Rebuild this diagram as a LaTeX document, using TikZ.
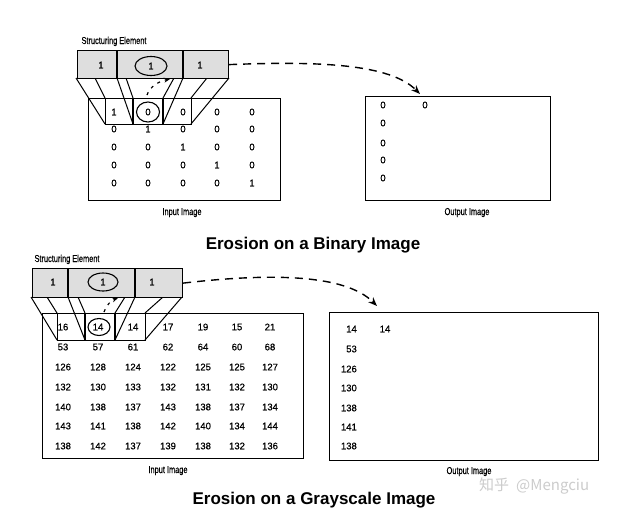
\documentclass[tikz,border=0pt]{standalone}
\usepackage{graphicx}
\usepackage{fontspec}
\setmainfont{Liberation Sans}
\newfontfamily\heavyfont[FakeBold=0.7]{Liberation Sans}
\newfontfamily\cjkfont{Noto Sans CJK SC}
\usetikzlibrary{arrows.meta,shapes.geometric}
\newcommand{\condtxt}[1]{\scalebox{0.74}[1]{#1}}
\begin{document}
\begin{tikzpicture}[x=1pt,y=-1pt,
  sebox/.style={fill=black!13,draw=black,line width=1.2pt,inner sep=0pt,anchor=north west},
  imgbox/.style={draw=black,line width=1.2pt,inner sep=0pt,anchor=north west},
  cellline/.style={draw=black,line width=1.1pt},
  proj/.style={draw=black,line width=1.0pt},
  num/.style={font=\heavyfont\fontsize{9.5}{10}\selectfont,inner sep=0pt},
  lab/.style={font=\heavyfont\fontsize{10}{11}\selectfont,inner sep=0pt,anchor=base},
  title/.style={font=\fontsize{17}{19}\selectfont\bfseries,inner sep=0pt,anchor=base},
  ring/.style={draw=black,line width=1.1pt},
  bigarrow/.style={draw=black,line width=1.4pt,dash pattern=on 8pt off 6pt,-{Stealth[length=9pt,width=7pt]}},
  smallarrow/.style={draw=black,line width=1.2pt,dash pattern=on 3pt off 5pt,-{Stealth[length=6pt,width=5pt]}}
]
\useasboundingbox (0,0) rectangle (620,523);
\fill[white] (0,0) rectangle (620,523);

% ================= Binary =================
\node[lab] (seLabB) at (114,44) {\condtxt{Structuring Element}};
% input image
\node[imgbox,minimum width=192pt,minimum height=102pt] (inB) at (88,98) {};
% window in input
\node[imgbox,minimum width=86pt,minimum height=26pt] (winB) at (105,98) {};
\draw[cellline] (133,98) -- (133,124);
\draw[cellline] (163,98) -- (163,124);
% projection lines
\draw[proj] (76,78) -- (105,124);
\draw[proj] (95,78) -- (105,98);
\draw[proj] (117,78) -- (133,124);
\draw[proj] (126,78) -- (133,98);
\draw[proj] (183,78) -- (163,124);
\draw[proj] (174,78) -- (163,98);
\draw[proj] (229,78) -- (191,124);
\draw[proj] (207,78) -- (191,98);
% structuring element
\node[sebox,minimum width=151pt,minimum height=28pt] (seB) at (77,50) {};
\draw[cellline] (117,50) -- (117,78);
\draw[cellline] (183,50) -- (183,78);
\node[num] (seB1) at (101,65) {1};
\node[num] (seB2) at (151,66) {1};
\node[num] (seB3) at (200,65) {1};
\node[ring,ellipse,minimum width=32pt,minimum height=19pt,inner sep=0pt] (seBc) at (151,66) {};
% input numbers
\foreach \r/\y in {1/112,2/129,3/147,4/165,5/183}{
  \foreach \c/\x in {1/114,2/148,3/183,4/217,5/252}{
    \pgfmathtruncatemacro{\v}{\r==\c ? 1 : 0}
    \node[num] (inB-\r-\c) at (\x,\y) {\v};
  }
}
\node[ring,ellipse,minimum width=23pt,minimum height=20pt,inner sep=0pt] (inBc) at (148,112) {};
\node[lab] (inLabB) at (182,215) {\condtxt{Input Image}};
% small arrow
\coordinate (saB1) at (147,95);
\coordinate (saB2) at (170,79);
\draw[smallarrow] (saB1) .. controls (150,86) and (160,81) .. (saB2);
% output
\node[imgbox,minimum width=185pt,minimum height=104pt] (outB) at (365,96) {};
\node[num] (outB-1-1) at (383,105) {0};
\node[num] (outB-1-2) at (425,105) {0};
\node[num] (outB-2-1) at (383,123) {0};
\node[num] (outB-3-1) at (383,143) {0};
\node[num] (outB-4-1) at (383,160) {0};
\node[num] (outB-5-1) at (383,178) {0};
\node[lab] (outLabB) at (467,215) {\condtxt{Output Image}};
\coordinate (tipB) at (420,94);
\draw[bigarrow] (seB.east) .. controls (320,61) and (390,64) .. (tipB);
\node[title] (titleB) at (313,249) {Erosion on a Binary Image};

% ================= Grayscale =================
\node[lab] (seLabG) at (67,262) {\condtxt{Structuring Element}};
\node[imgbox,minimum width=261pt,minimum height=145pt] (inG) at (42,313) {};
\node[imgbox,minimum width=88pt,minimum height=27pt] (winG) at (57,313) {};
\draw[cellline] (85,313) -- (85,340);
\draw[cellline] (115,313) -- (115,340);
\draw[proj] (31,297) -- (57,340);
\draw[proj] (47,297) -- (57,313);
\draw[proj] (68,297) -- (85,340);
\draw[proj] (78,297) -- (85,313);
\draw[proj] (135,297) -- (115,340);
\draw[proj] (125,297) -- (115,313);
\draw[proj] (182,297) -- (145,340);
\draw[proj] (163,297) -- (145,313);
\node[sebox,minimum width=150pt,minimum height=29pt] (seG) at (32,268) {};
\draw[cellline] (68,268) -- (68,297);
\draw[cellline] (135,268) -- (135,297);
\node[num] (seG1) at (53,282) {1};
\node[num] (seG2) at (103,282) {1};
\node[num] (seG3) at (152,282) {1};
\node[ring,ellipse,minimum width=30pt,minimum height=18pt,inner sep=0pt] (seGc) at (103,282) {};
\foreach \r/\y/\vals in {
  1/327/{16,14,14,17,19,15,21},
  2/347/{53,57,61,62,64,60,68},
  3/367/{126,128,124,122,125,125,127},
  4/387/{132,130,133,132,131,132,130},
  5/407/{140,138,137,143,138,137,134},
  6/426/{143,141,138,142,140,134,144},
  7/446/{138,142,137,139,138,132,136}}{
  \foreach \v [count=\c] in \vals {
    \pgfmathsetmacro{\x}{{63,98,133,168,203,237,270}[\c-1]}
    \node[num] (inG-\r-\c) at (\x,\y) {\v};
  }
}
\node[ring,ellipse,minimum width=22pt,minimum height=17pt,inner sep=0pt] (inGc) at (99,327) {};
\node[lab] (inLabG) at (168,473) {\condtxt{Input Image}};
\coordinate (saG1) at (104,312);
\coordinate (saG2) at (118,298);
\draw[smallarrow] (saG1) .. controls (106,305) and (112,300) .. (saG2);
\node[imgbox,minimum width=269pt,minimum height=148pt] (outG) at (329,312) {};
\foreach \r/\y/\v in {1/329/14,2/349/53,3/369/126,4/388/130,5/408/138,6/427/141,7/446/138}{
  \node[num,anchor=east] (outG-\r-1) at (357,\y) {\v};
}
\node[num] (outG-1-2) at (385,329) {14};
\node[lab] (outLabG) at (469,474) {\condtxt{Output Image}};
\coordinate (tipG) at (377,306);
\draw[bigarrow] (seG.east) .. controls (270,273) and (345,274) .. (tipG);
\node[title] (titleG) at (314,504) {Erosion on a Grayscale Image};

% watermark
\node[font=\cjkfont\fontsize{15}{17}\selectfont,text=black!20,inner sep=0pt,anchor=base west] (wm) at (479,490) {知乎\hspace{7pt}@Mengciu};
\end{tikzpicture}
\end{document}
